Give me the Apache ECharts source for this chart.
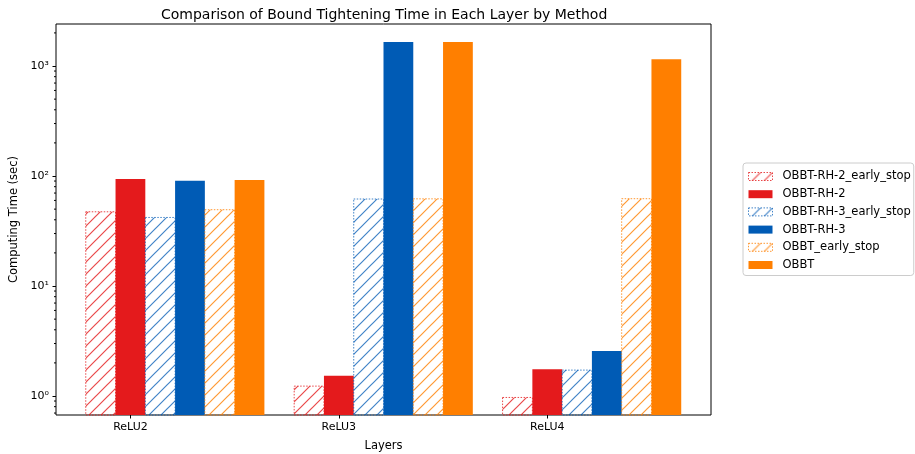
<!DOCTYPE html>
<html lang="en">
<head>
    <meta charset="UTF-8">
    <title>Bound Tightening Time</title>
    <script type="text/javascript" src="https://cdn.jsdelivr.net/npm/echarts@6/dist/echarts.min.js"></script>
    <style>
        body { margin: 0; background: #fff; }
    </style>
</head>
<body>
    <div id="main" style="width: 915px; height: 454px;"></div>
    <script type="text/javascript">
        var layers = ['ReLU2', 'ReLU3', 'ReLU4'];
        var methodNames = ['OBBT-RH-2_early_stop', 'OBBT-RH-2', 'OBBT-RH-3_early_stop', 'OBBT-RH-3', 'OBBT_early_stop', 'OBBT'];
        var rh2EarlyStop = [47.3, 1.23, 0.97];
        var rh2 = [94, 1.53, 1.75];
        var rh3EarlyStop = [42, 61.8, 1.72];
        var rh3 = [90.6, 1652, 2.57];
        var obbtEarlyStop = [49.4, 62, 62.2];
        var obbt = [92, 1652, 1150];
        var yTickValues = [1, 10, 100, 1000];
        var yTickLabels = ['10⁰', '10¹', '10²', '10³'];
        var yMinorTicks = [0.7, 0.8, 0.9, 2, 3, 4, 5, 6, 7, 8, 9, 20, 30, 40, 50, 60, 70, 80, 90,
            200, 300, 400, 500, 600, 700, 800, 900, 2000];

        var seriesValues = [rh2EarlyStop, rh2, rh3EarlyStop, rh3, obbtEarlyStop, obbt];
        var colors = ['#e41a1c', '#e41a1c', '#005bb5', '#005bb5', '#ff7f00', '#ff7f00'];
        var lightColors = ['rgba(228,26,28,0.8)', 'rgba(228,26,28,0.8)', 'rgba(0,91,181,0.75)',
            'rgba(0,91,181,0.75)', 'rgba(255,127,0,0.8)', 'rgba(255,127,0,0.8)'];
        var hatched = [true, false, true, false, true, false];
        var barWidth = 1 / 7;
        var font = 'DejaVu Sans';

        function makeHatch(color) {
            var p = 12;
            var c = document.createElement('canvas');
            c.width = p;
            c.height = p;
            var ctx = c.getContext('2d');
            ctx.strokeStyle = color;
            ctx.lineWidth = 1.2;
            ctx.beginPath();
            ctx.moveTo(0, p); ctx.lineTo(p, 0);
            ctx.moveTo(-1, 1); ctx.lineTo(1, -1);
            ctx.moveTo(p - 1, p + 1); ctx.lineTo(p + 1, p - 1);
            ctx.stroke();
            return { image: c, repeat: 'repeat' };
        }

        function barStyle(k) {
            if (hatched[k]) {
                return {
                    color: makeHatch(lightColors[k]),
                    borderColor: lightColors[k],
                    borderWidth: 1,
                    borderType: [1.5, 1.5]
                };
            }
            return { color: colors[k], borderColor: colors[k], borderWidth: 0 };
        }

        function makeRender(k) {
            var st = barStyle(k);
            return function (params, api) {
                var cat = api.value(0);
                var val = api.value(1);
                var center = cat + (k - 1) * barWidth;
                var tl = api.coord([center - barWidth / 2, val]);
                var tr = api.coord([center + barWidth / 2, val]);
                var bottom = params.coordSys.y + params.coordSys.height;
                var style = hatched[k] ? {
                    fill: st.color,
                    stroke: st.borderColor,
                    lineWidth: 1,
                    lineDash: [1.5, 1.5]
                } : { fill: st.color };
                return {
                    type: 'rect',
                    shape: { x: tl[0], y: tl[1], width: tr[0] - tl[0], height: bottom - tl[1] },
                    style: style
                };
            };
        }

        // minor ticks of the log axis, drawn just outside the left frame
        function renderMinorTick(params, api) {
            var y = api.coord([0, api.value(1)])[1];
            var x = params.coordSys.x;
            return {
                type: 'line',
                shape: { x1: x - 2, y1: y, x2: x, y2: y },
                style: { stroke: '#000', lineWidth: 1 }
            };
        }

        var chartDom = document.getElementById('main');
        var myChart = echarts.init(chartDom);
        var option;

        var barSeries = seriesValues.map(function (vals, k) {
            return {
                type: 'custom',
                name: methodNames[k],
                itemStyle: barStyle(k),
                encode: { x: 0, y: 1 },
                data: vals.map(function (v, i) { return [i, v]; }),
                renderItem: makeRender(k)
            };
        });

        barSeries.push({
            type: 'custom',
            name: 'minorTicks',
            clip: false,
            silent: true,
            encode: { x: 0, y: 1 },
            data: yMinorTicks.map(function (v) { return [0, v]; }),
            renderItem: renderMinorTick
        });

        option = {
            animation: false,
            textStyle: { fontFamily: font },
            title: {
                text: 'Comparison of Bound Tightening Time in Each Layer by Method',
                left: 156,
                top: 3,
                textStyle: { fontFamily: font, fontSize: 14, fontWeight: 'normal', color: '#000' }
            },
            legend: {
                orient: 'vertical',
                left: 743,
                top: 163,
                padding: [7, 3, 4, 5],
                borderColor: '#cccccc',
                borderWidth: 1,
                borderRadius: 3,
                itemWidth: 24,
                itemHeight: 8,
                itemGap: 4.7,
                icon: 'rect',
                textStyle: { fontFamily: font, fontSize: 11.5, lineHeight: 13, color: '#000', padding: [0, 0, 0, 5] },
                data: methodNames.map(function (n, k) {
                    return { name: n, itemStyle: barStyle(k) };
                })
            },
            grid: {
                left: 56,
                top: 24,
                right: 204,
                bottom: 39,
                show: true,
                borderColor: '#000',
                borderWidth: 1,
                containLabel: false,
                outerBoundsMode: 'none'
            },
            xAxis: {
                type: 'value',
                min: -0.3571,
                max: 2.7857,
                name: 'Layers',
                nameLocation: 'middle',
                nameGap: 25,
                nameTextStyle: { fontFamily: font, fontSize: 11.5, color: '#000' },
                axisLine: { show: false, onZero: false },
                splitLine: { show: false },
                axisTick: { length: 3.5, lineStyle: { color: '#000' }, customValues: [0, 1, 2] },
                axisLabel: {
                    customValues: [0, 1, 2],
                    fontFamily: font,
                    fontSize: 11,
                    color: '#000',
                    margin: 7,
                    formatter: function (v) { return layers[Math.round(v)]; }
                }
            },
            yAxis: {
                type: 'log',
                min: 0.672,
                max: 2410,
                name: 'Computing Time (sec)',
                nameLocation: 'middle',
                nameGap: 36,
                nameTextStyle: { fontFamily: font, fontSize: 11.5, color: '#000' },
                axisLine: { show: false, onZero: false },
                splitLine: { show: false },
                axisTick: { length: 3.5, lineStyle: { color: '#000' }, customValues: yTickValues },
                axisLabel: {
                    customValues: yTickValues,
                    fontFamily: font,
                    fontSize: 11,
                    color: '#000',
                    margin: 7,
                    formatter: function (v) {
                        var i = Math.round(Math.log10(v));
                        return yTickLabels[i] || '';
                    }
                }
            },
            series: barSeries
        };

        option && myChart.setOption(option);
    </script>
</body>
</html>
